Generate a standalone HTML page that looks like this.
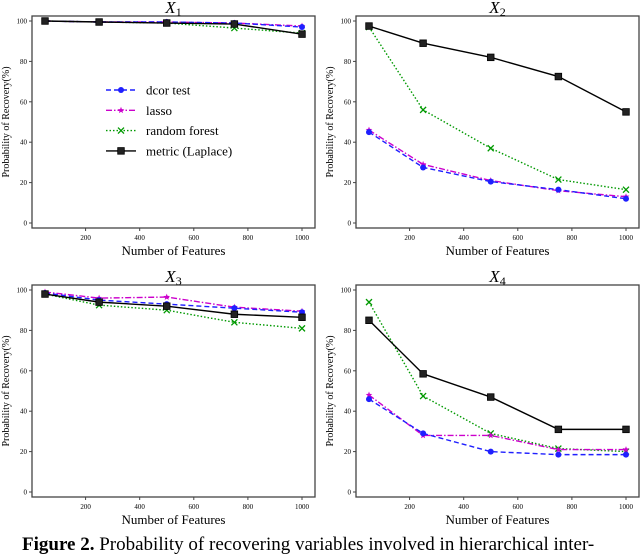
<!DOCTYPE html>
<html><head><meta charset="utf-8"><style>
body{margin:0;background:#fff;width:640px;height:542px;overflow:hidden;position:relative}
svg{position:absolute;left:0;top:0;font-family:"Liberation Serif",serif}
</style></head><body>
<svg id="chart" width="640" height="542" viewBox="0 0 640 542"></svg>
<div style="position:absolute;left:22px;top:535px;font-family:'Liberation Serif',serif;font-size:19px;line-height:19px;white-space:nowrap"><b>Figure 2.</b> Probability of recovering variables involved in hierarchical inter-</div>
<script>
const features = [50, 250, 500, 750, 1000];
const xTicks = [200, 400, 600, 800, 1000];
const yTicks = [0, 20, 40, 60, 80, 100];
const titles = ["1", "2", "3", "4"];
const dcorX1 = [100, 99.5, 99.5, 99, 97];
const lassoX1 = [100, 99.5, 99.5, 99, 97.5];
const rfX1 = [100, 99.5, 99, 96.5, 94];
const metricX1 = [100, 99.5, 99, 98.5, 93.5];
const dcorX2 = [45, 27.5, 20.5, 16.5, 12];
const lassoX2 = [46, 29, 21, 16, 13];
const rfX2 = [97, 56, 37, 21.5, 16.5];
const metricX2 = [97.5, 89, 82, 72.5, 55];
const dcorX3 = [98.5, 95, 93, 91, 89];
const lassoX3 = [99, 96, 96.5, 91.5, 89.5];
const rfX3 = [98, 92.5, 90, 84, 81];
const metricX3 = [98, 94, 92, 88, 86.5];
const dcorX4 = [46, 29, 20, 18.5, 18.5];
const lassoX4 = [48, 28, 28, 21, 21];
const rfX4 = [94, 47.5, 29, 21.5, 20];
const metricX4 = [85, 58.5, 47, 31, 31];
const legendLabels = ["dcor test", "lasso", "random forest", "metric (Laplace)"];

const NS = "http://www.w3.org/2000/svg";
const svg = document.getElementById("chart");
function mk(tag, attrs, parent) {
  const e = document.createElementNS(NS, tag);
  for (const k in attrs) e.setAttribute(k, attrs[k]);
  (parent || svg).appendChild(e);
  return e;
}
const styles = [
  {color: "#1f1fff", dash: "5,3", marker: "circle"},
  {color: "#cc00cc", dash: "6,2,1.5,2", marker: "star"},
  {color: "#009900", dash: "1.5,2", marker: "x"},
  {color: "#000", dash: "", marker: "square"}
];
function marker(g, kind, x, y, c) {
  let m;
  if (kind === "circle") m = mk("circle", {cx: x, cy: y, r: 3, fill: c}, g);
  else if (kind === "square") m = mk("rect", {x: x - 3.3, y: y - 3.3, width: 6.6, height: 6.6, fill: "#222", stroke: "#000", "stroke-width": 0.8}, g);
  else if (kind === "x") m = mk("path", {d: `M${x-3},${y-3}L${x+3},${y+3}M${x-3},${y+3}L${x+3},${y-3}`, stroke: c, "stroke-width": 1.3, fill: "none"}, g);
  else m = mk("polygon", {points: [0,1,2,3,4,5,6,7,8,9].map(i => { const r = i % 2 ? 1.5 : 3.5, a = -Math.PI/2 + i*Math.PI/5; return (x + r*Math.cos(a)) + "," + (y + r*Math.sin(a)); }).join(" "), fill: c}, g);
  
  
}
function panel(ox, oy, idx, series) {
  const L = ox + 32, R = ox + 315, T = oy + 16, B = oy + 228;
  const xs = v => ox + 45 + (v - 50) * (257 / 950);
  const ys = v => oy + 223 - v * 2.02;
  const g = mk("g", {});
  
  
  const box = mk("rect", {x: L, y: T, width: R - L, height: B - T, fill: "none", stroke: "#444", "stroke-width": 1.3}, g);
  
  
  const t = mk("text", {x: (L + R) / 2, y: T - 3, "text-anchor": "middle", "font-size": 17, "font-style": "italic"}, g);
  
  
  t.textContent = "X";
  const sub = mk("tspan", {"font-size": 12, "font-style": "normal", dy: 3}, t);
  sub.textContent = titles[idx];
  xTicks.forEach(v => {
    mk("line", {x1: xs(v), x2: xs(v), y1: B, y2: B + 3, stroke: "#444"}, g);
    const tx = mk("text", {x: xs(v), y: B + 12, "text-anchor": "middle", "font-size": 7}, g);
    
    
    tx.textContent = v;
  });
  yTicks.forEach(v => {
    mk("line", {x1: L - 3, x2: L, y1: ys(v), y2: ys(v), stroke: "#444"}, g);
    const ty = mk("text", {x: L - 5, y: ys(v) + 2.5, "text-anchor": "end", "font-size": 7}, g);
    
    
    ty.textContent = v;
  });
  const xl = mk("text", {x: (L + R) / 2, y: B + 27, "text-anchor": "middle", "font-size": 13}, g);
  
  
  xl.textContent = "Number of Features";
  const yl = mk("text", {x: 0, y: 0, "text-anchor": "middle", "font-size": 10, transform: `translate(${ox + 9},${(T + B) / 2}) rotate(-90)`}, g);
  
  
  yl.textContent = "Probability of Recovery(%)";
  [2, 1, 0, 3].forEach(si => {
    const s = styles[si], vals = series[si];
    const p = mk("polyline", {points: vals.map((v, i) => xs(features[i]) + "," + ys(v)).join(" "), fill: "none", stroke: s.color, "stroke-width": 1.4, "stroke-dasharray": s.dash}, g);
    
    
    vals.forEach((v, i) => marker(g, s.marker, xs(features[i]), ys(v), s.color));
  });
}
panel(0, 0, 0, [dcorX1, lassoX1, rfX1, metricX1]);
panel(324, 0, 1, [dcorX2, lassoX2, rfX2, metricX2]);
panel(0, 269, 2, [dcorX3, lassoX3, rfX3, metricX3]);
panel(324, 269, 3, [dcorX4, lassoX4, rfX4, metricX4]);
const lg = mk("g", {});


legendLabels.forEach((lab, i) => {
  const y = 90 + i * 20.3, s = styles[i];
  const e = mk("g", {}, lg);
  
  
  mk("line", {x1: 106, x2: 136, y1: y, y2: y, stroke: s.color, "stroke-width": 1.4, "stroke-dasharray": s.dash}, e);
  marker(e, s.marker, 121, y, s.color);
  const t = mk("text", {x: 146, y: y + 4.5, "font-size": 13}, e);
  t.textContent = lab;
});
</script>
</body></html>
